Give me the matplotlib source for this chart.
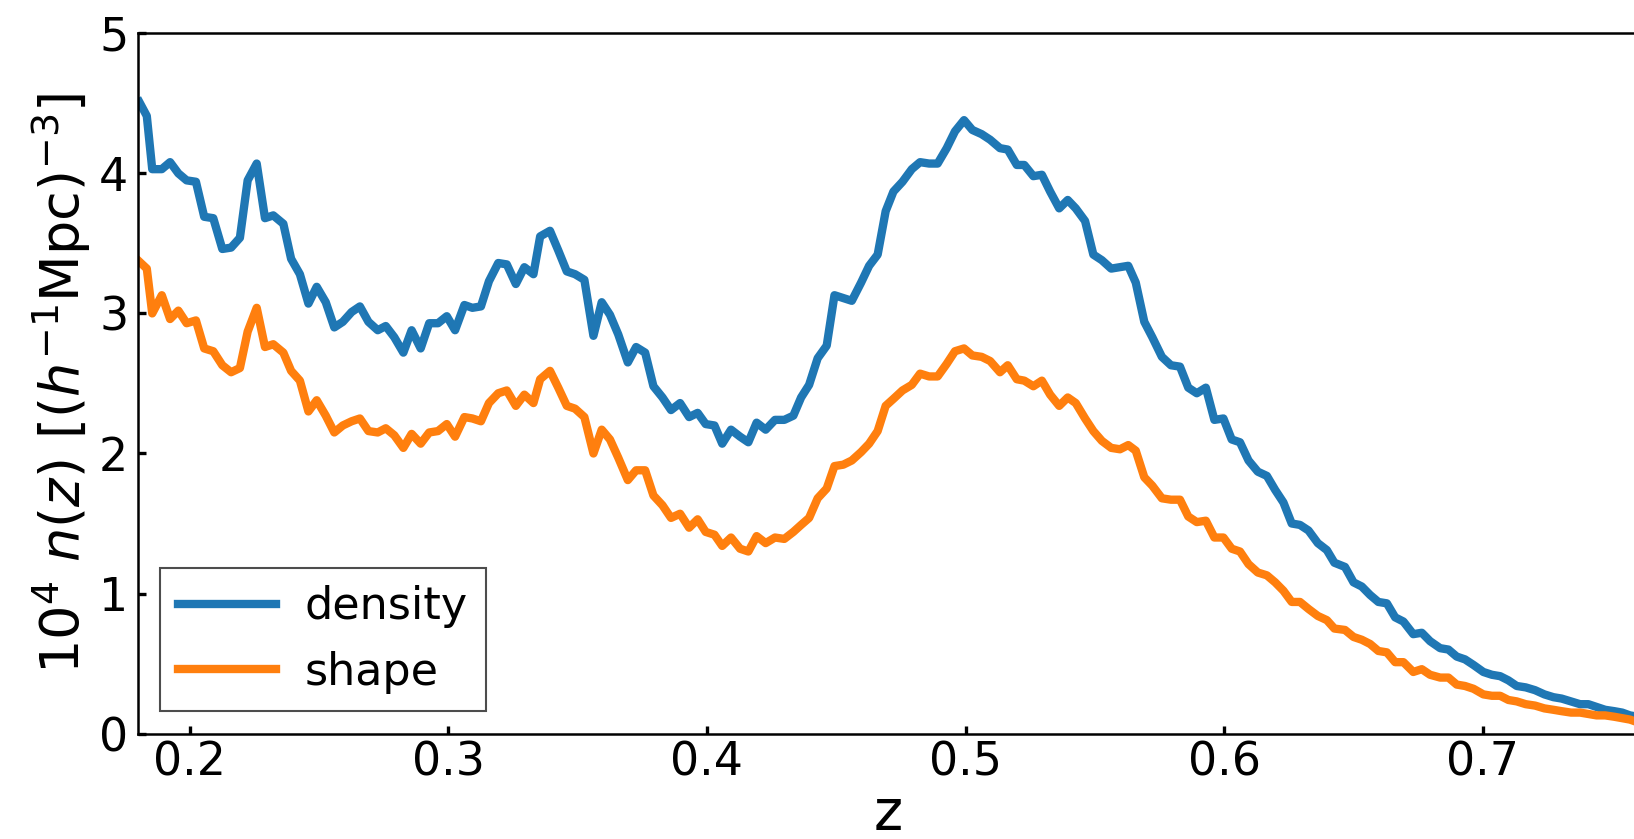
import matplotlib
matplotlib.use("Agg")
import matplotlib.pyplot as plt

# redshift bins
z_a = [0.1805, 0.1834, 0.1855, 0.1892, 0.1924, 0.1956, 0.1988, 0.2024, 0.2056, 0.2091,
       0.2126, 0.2160, 0.2194, 0.2224, 0.2259, 0.2291, 0.2323, 0.2362, 0.2392, 0.2426,
       0.2459, 0.2491, 0.2526, 0.2559, 0.2592, 0.2626, 0.2658, 0.2691, 0.2727, 0.2758,
       0.2791, 0.2826, 0.2858, 0.2893, 0.2926, 0.2960]
z_b = [0.2994, 0.3026, 0.3062, 0.3093, 0.3126, 0.3157, 0.3193, 0.3226, 0.3261, 0.3294,
       0.3329, 0.3355, 0.3393, 0.3425, 0.3458, 0.3490, 0.3526, 0.3561, 0.3593, 0.3625,
       0.3657, 0.3694, 0.3726, 0.3761, 0.3793, 0.3828, 0.3861, 0.3896, 0.3931, 0.3964,
       0.3995, 0.4029, 0.4059, 0.4093]
z_c = [0.4128, 0.4160, 0.4192, 0.4227, 0.4263, 0.4299, 0.4334, 0.4364, 0.4395, 0.4428,
       0.4463, 0.4493, 0.4527, 0.4560, 0.4596, 0.4627, 0.4660, 0.4691, 0.4721, 0.4756,
       0.4792, 0.4824, 0.4859, 0.4892, 0.4927, 0.4959, 0.4994, 0.5026, 0.5062, 0.5095,
       0.5133, 0.5163, 0.5198, 0.5227, 0.5262]
z_d = [0.5295, 0.5327, 0.5362, 0.5395, 0.5426, 0.5462, 0.5494, 0.5527, 0.5563, 0.5597,
       0.5629, 0.5658, 0.5691, 0.5722, 0.5759, 0.5794, 0.5829, 0.5861, 0.5894, 0.5929,
       0.5962, 0.5997, 0.6029, 0.6061, 0.6094, 0.6130, 0.6165, 0.6197, 0.6229, 0.6261,
       0.6293, 0.6326, 0.6362, 0.6397, 0.6426]
z_e = [0.6467, 0.6500, 0.6532, 0.6564, 0.6596, 0.6629, 0.6661, 0.6693, 0.6731, 0.6764,
       0.6796, 0.6835, 0.6867, 0.6899, 0.6931, 0.6964, 0.7002, 0.7035, 0.7067, 0.7099,
       0.7131, 0.7166, 0.7202, 0.7238, 0.7273, 0.7305, 0.7341, 0.7376, 0.7408, 0.7440,
       0.7473, 0.7509, 0.7539, 0.7569, 0.7600]

density_a = [4.51, 4.41, 4.03, 4.03, 4.08, 4.00, 3.95, 3.94, 3.69, 3.68,
             3.46, 3.47, 3.54, 3.95, 4.07, 3.68, 3.70, 3.64, 3.39, 3.28,
             3.07, 3.19, 3.08, 2.90, 2.94, 3.01, 3.05, 2.94, 2.88, 2.91,
             2.83, 2.72, 2.88, 2.75, 2.93, 2.93]
density_b = [2.98, 2.88, 3.06, 3.04, 3.05, 3.23, 3.36, 3.35, 3.21, 3.33,
             3.28, 3.55, 3.59, 3.45, 3.30, 3.28, 3.24, 2.84, 3.08, 2.99,
             2.85, 2.65, 2.76, 2.72, 2.48, 2.40, 2.31, 2.36, 2.26, 2.29,
             2.21, 2.20, 2.07, 2.17]
density_c = [2.12, 2.08, 2.22, 2.17, 2.24, 2.24, 2.27, 2.40, 2.49, 2.68,
             2.77, 3.13, 3.11, 3.09, 3.22, 3.34, 3.42, 3.73, 3.87, 3.94,
             4.03, 4.08, 4.07, 4.07, 4.18, 4.30, 4.38, 4.31, 4.28, 4.24,
             4.18, 4.17, 4.06, 4.06, 3.98]
density_d = [3.99, 3.87, 3.75, 3.81, 3.75, 3.66, 3.42, 3.38, 3.32, 3.33,
             3.34, 3.22, 2.94, 2.83, 2.69, 2.63, 2.62, 2.47, 2.43, 2.47,
             2.24, 2.25, 2.10, 2.08, 1.95, 1.87, 1.84, 1.74, 1.65, 1.50,
             1.49, 1.45, 1.36, 1.31, 1.22]
density_e = [1.19, 1.08, 1.05, 0.99, 0.94, 0.93, 0.83, 0.80, 0.71, 0.72,
             0.66, 0.61, 0.60, 0.55, 0.53, 0.49, 0.44, 0.42, 0.41, 0.38,
             0.34, 0.33, 0.31, 0.28, 0.26, 0.25, 0.23, 0.21, 0.21, 0.19,
             0.17, 0.16, 0.15, 0.13, 0.12]

shape_a = [3.37, 3.32, 3.00, 3.13, 2.96, 3.02, 2.93, 2.95, 2.75, 2.73,
           2.63, 2.58, 2.61, 2.87, 3.04, 2.76, 2.78, 2.72, 2.59, 2.52,
           2.30, 2.38, 2.27, 2.15, 2.20, 2.23, 2.25, 2.16, 2.15, 2.18,
           2.13, 2.04, 2.14, 2.07, 2.15, 2.16]
shape_b = [2.21, 2.12, 2.26, 2.25, 2.23, 2.36, 2.43, 2.45, 2.34, 2.42,
           2.36, 2.53, 2.59, 2.47, 2.34, 2.32, 2.26, 2.00, 2.17, 2.10,
           1.97, 1.81, 1.88, 1.88, 1.70, 1.63, 1.54, 1.57, 1.47, 1.53,
           1.44, 1.42, 1.34, 1.40]
shape_c = [1.32, 1.30, 1.41, 1.36, 1.40, 1.39, 1.44, 1.49, 1.54, 1.68,
           1.75, 1.91, 1.92, 1.95, 2.01, 2.07, 2.16, 2.34, 2.39, 2.45,
           2.49, 2.57, 2.55, 2.55, 2.64, 2.73, 2.75, 2.70, 2.69, 2.66,
           2.58, 2.63, 2.53, 2.52, 2.48]
shape_d = [2.52, 2.42, 2.34, 2.40, 2.36, 2.25, 2.16, 2.09, 2.04, 2.03,
           2.06, 2.02, 1.83, 1.77, 1.68, 1.67, 1.67, 1.55, 1.51, 1.52,
           1.40, 1.40, 1.32, 1.30, 1.21, 1.15, 1.13, 1.08, 1.02, 0.94,
           0.94, 0.89, 0.84, 0.81, 0.75]
shape_e = [0.74, 0.69, 0.67, 0.64, 0.59, 0.58, 0.51, 0.51, 0.44, 0.46,
           0.42, 0.40, 0.40, 0.35, 0.34, 0.32, 0.28, 0.27, 0.27, 0.24,
           0.23, 0.21, 0.20, 0.18, 0.17, 0.16, 0.15, 0.15, 0.14, 0.13,
           0.13, 0.12, 0.11, 0.10, 0.08]

z = z_a + z_b + z_c + z_d + z_e
density = density_a + density_b + density_c + density_d + density_e
shape = shape_a + shape_b + shape_c + shape_d + shape_e

series_labels = ["density", "shape"]
x_ticks = [0.2, 0.3, 0.4, 0.5, 0.6, 0.7]
y_ticks = [0, 1, 2, 3, 4, 5]

fig = plt.figure(figsize=(16.34, 8.39), dpi=100)
ax = fig.add_axes([138 / 1634, (839 - 733.6) / 839, 1500 / 1634, 700.3 / 839])

ax.plot(z, density, color="#1f77b4", lw=6, label=series_labels[0])
ax.plot(z, shape, color="#ff7f0e", lw=6, label=series_labels[1])

ax.set_xlim(0.18, 0.76)
ax.set_ylim(0, 5)
ax.set_xticks(x_ticks)
ax.set_xticklabels([f"{t:.1f}" for t in x_ticks])
ax.set_yticks(y_ticks)

for s in ax.spines.values():
    s.set_linewidth(1.8)
ax.spines["right"].set_visible(False)

ax.tick_params(axis="both", direction="in", length=6, width=2.4, labelsize=33)
ax.tick_params(axis="x", pad=5)
ax.tick_params(axis="y", pad=7)

ax.set_xlabel("z", fontsize=40, labelpad=1)
ax.set_ylabel(r"$10^4\ n(z)\ [(h^{-1}\mathrm{Mpc})^{-3}]$", fontsize=39, labelpad=4)

leg = ax.legend(loc="lower left", fontsize=32, fancybox=False, framealpha=1,
                edgecolor="0.3", handlelength=2.2, handletextpad=0.65,
                borderaxespad=0.5)
leg.get_frame().set_linewidth(1.5)

fig.savefig("out.png", dpi=100)
